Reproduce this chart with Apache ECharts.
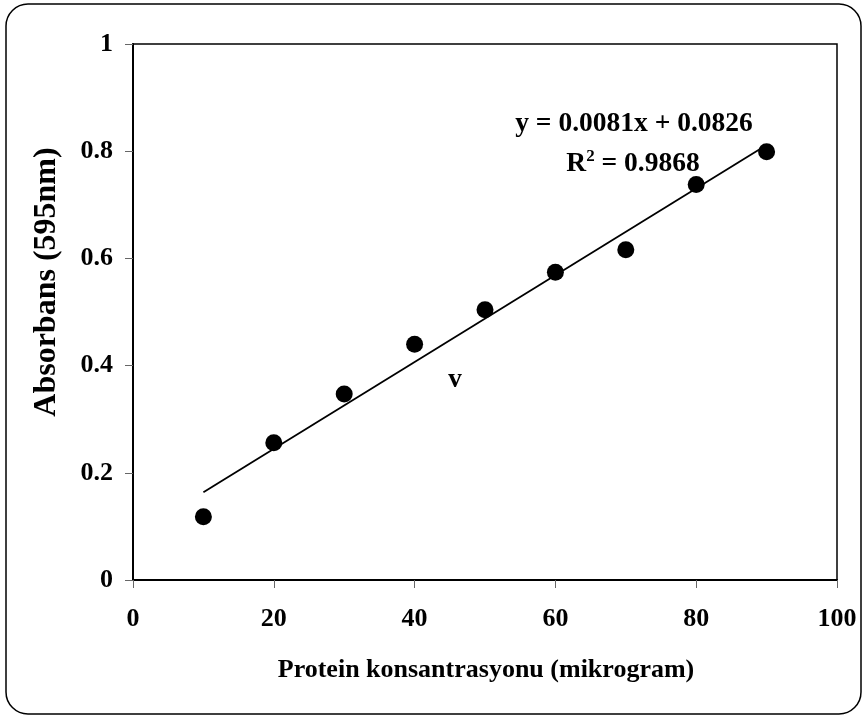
<!DOCTYPE html>
<html>
<head>
<meta charset="utf-8">
<script src="https://cdn.jsdelivr.net/npm/echarts@6/dist/echarts.min.js"></script>
<style>
html,body{margin:0;padding:0;background:#fff;}
#c{width:865px;height:718px;}
</style>
</head>
<body>
<div id="c"></div>
<script>
const xValues = [10, 20, 30, 40, 50, 60, 70, 80, 90];
const absorbance = [0.118, 0.256, 0.347, 0.440, 0.504, 0.574, 0.616, 0.738, 0.799];
const trendX = [10, 90];
const trendY = [0.1636, 0.8116];
const xTitle = 'Protein konsantrasyonu (mikrogram)';
const yTitle = 'Absorbans (595nm)';
const equation = 'y = 0.0081x + 0.0826';
const rSquared = '0.9868';

const FONT = 'Liberation Serif';
const chart = echarts.init(document.getElementById('c'));
chart.setOption({
  backgroundColor: '#fff',
  animation: false,
  grid: {left: 133, right: 28, top: 44, bottom: 138, show: true, borderColor: '#000', borderWidth: 1.5, containLabel: false},
  xAxis: {
    type: 'value', min: 0, max: 100, interval: 20,
    axisLine: {show: true, onZero: false, lineStyle: {color: '#000', width: 2}},
    axisTick: {show: true, inside: false, length: 8, lineStyle: {color: '#666', width: 1}},
    axisLabel: {margin: 26, color: '#000', fontFamily: FONT, fontWeight: 'bold', fontSize: 26},
    splitLine: {show: false}
  },
  yAxis: {
    type: 'value', min: 0, max: 1, interval: 0.2,
    axisLine: {show: true, onZero: false, lineStyle: {color: '#000', width: 2}},
    axisTick: {show: true, inside: false, length: 8, lineStyle: {color: '#666', width: 1}},
    axisLabel: {margin: 20, color: '#000', fontFamily: FONT, fontWeight: 'bold', fontSize: 26},
    splitLine: {show: false}
  },
  series: [
    {
      type: 'line',
      data: trendX.map((x, i) => [x, trendY[i]]),
      symbol: 'none',
      lineStyle: {color: '#000', width: 1.8},
      z: 2
    },
    {
      type: 'scatter',
      data: xValues.map((x, i) => [x, absorbance[i]]),
      symbol: 'circle',
      symbolSize: 17,
      itemStyle: {color: '#000', opacity: 1},
      z: 3
    }
  ],
  graphic: [
    {type: 'rect', shape: {x: 6, y: 4, width: 855, height: 710, r: 22}, style: {fill: 'none', stroke: '#000', lineWidth: 1.5}, z: -1},
    {type: 'text', x: 486, y: 670, style: {text: xTitle, fontFamily: FONT, fontWeight: 'bold', fontSize: 26, fill: '#000', align: 'center', verticalAlign: 'middle'}},
    {type: 'text', x: 47, y: 282, rotation: Math.PI / 2, style: {text: yTitle, fontFamily: FONT, fontWeight: 'bold', fontSize: 32, fill: '#000', align: 'center', verticalAlign: 'middle'}},
    {type: 'text', x: 634, y: 124, style: {text: equation, fontFamily: FONT, fontWeight: 'bold', fontSize: 27.5, fill: '#000', align: 'center', verticalAlign: 'middle'}},
    {type: 'text', x: 633, y: 164, style: {
      text: '{a|R}{s|2}{a| = ' + rSquared + '}',
      align: 'center', verticalAlign: 'middle',
      rich: {
        a: {fontFamily: FONT, fontWeight: 'bold', fontSize: 27.5, fill: '#000', color: '#000', lineHeight: 32},
        s: {fontFamily: FONT, fontWeight: 'bold', fontSize: 17, fill: '#000', color: '#000', verticalAlign: 'top', lineHeight: 32, padding: [0, 0, 16, 0]}
      }
    }},
    {type: 'text', x: 455, y: 380, style: {text: 'v', fontFamily: FONT, fontWeight: 'bold', fontSize: 27, fill: '#000', align: 'center', verticalAlign: 'middle'}}
  ]
});
</script>
</body>
</html>
